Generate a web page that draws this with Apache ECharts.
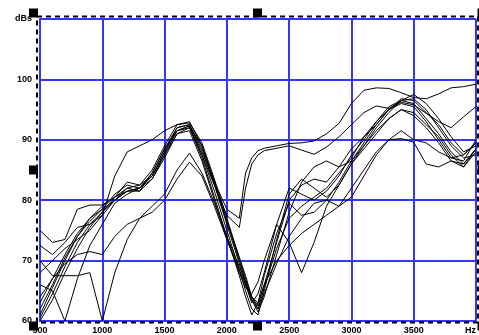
<!DOCTYPE html>
<html>
<head>
<meta charset="utf-8">
<title>dBs / Hz</title>
<script src="https://cdn.jsdelivr.net/npm/echarts/dist/echarts.min.js"></script>
<style>
  html, body { margin: 0; padding: 0; background: #fff; }
  #chart { width: 479px; height: 335px; }
</style>
</head>
<body>
<div id="chart"></div>
<script>
// frequency points (Hz) shared by every curve
const freqs = [500, 600, 700, 800, 900, 1000, 1100, 1200, 1300, 1400, 1500, 1600, 1700, 1800, 1900, 2000, 2100, 2150, 2200, 2250,
  2300, 2400, 2500, 2600, 2700, 2800, 2900, 3000, 3100, 3200, 3300, 3400, 3500, 3600, 3700, 3800, 3900, 4000]

const curve1 = [62, 66, 70.5, 74, 77, 79, 80.5, 81.5, 82, 84.5, 88.5, 92, 92.5, 88, 83, 78.5, 77, 84.5, 87, 88.2,
  88.6, 89, 89.4, 89.5, 89.8, 91, 92.7, 96, 98.2, 98.6, 98.5, 97.8, 97, 96.8, 97.6, 98.6, 98.8, 99.2]
const curve2 = [63, 67, 71, 74.5, 77, 78.5, 80, 81.5, 82, 84, 88, 91.5, 92.3, 87.5, 82.5, 77.5, 75.5, 82, 86, 87.5,
  88.2, 88.6, 89, 88.3, 87.6, 88.8, 90.5, 92.5, 94.5, 95.6, 95.2, 96.2, 95.8, 94.4, 93, 92, 93.8, 95.5]
const curve3 = [61, 65.5, 70, 74, 76.5, 78.5, 81, 82.5, 82, 84, 88, 92, 92.5, 88.5, 82.5, 76, 69.5, 66, 63, 64.5,
  68, 76, 82, 81, 80, 81.5, 84, 87.5, 90, 93, 95.5, 96.5, 96, 93.5, 91, 88, 86, 88.5]
const curve4 = [75, 73, 73.5, 78.5, 79.2, 79.2, 80.5, 82, 82.5, 85, 89, 92.5, 92.8, 89.5, 83.5, 77, 70.5, 67, 64, 62.5,
  66, 73, 80, 82.5, 83.5, 83, 85.5, 88.5, 90.5, 92.5, 95, 96.8, 96.5, 94.5, 92.5, 89.5, 87.5, 89.5]
const curve5 = [68, 70, 72, 73.5, 75, 77.5, 84, 88, 89, 90, 91.5, 92.5, 93, 89, 83, 76.5, 70, 66.5, 63.5, 61.5,
  64, 71, 78, 83, 85.5, 86.5, 85.5, 86.5, 89, 92, 94.5, 96.5, 97.5, 96, 93.5, 90.5, 88, 89]
const curve6 = [72.5, 71, 73, 75.5, 76, 77.5, 80, 81.5, 81.5, 83.5, 87, 91, 92, 87.5, 81.5, 75, 68.5, 65, 62, 61,
  65, 73.5, 81, 83.5, 82, 80.5, 82.5, 86, 89, 91.5, 93.5, 95, 94.5, 92.5, 90.5, 87.5, 85.5, 88]
const curve7 = [60.5, 64.5, 69, 73, 76, 78, 80, 82, 81.5, 84.5, 88.5, 91.5, 92, 87, 80.5, 74, 67.5, 64, 61, 63,
  67.5, 74.5, 79.5, 77.5, 78, 80, 83, 86.5, 89.5, 92.5, 95, 96, 95.5, 93, 90, 87, 86.5, 90]
const curve8 = [66, 65, 60, 67, 72.5, 76, 79.5, 81, 82, 83.5, 87.5, 91, 91.5, 86.5, 80, 73.5, 68, 65.5, 64.5, 66.5,
  70, 76, 73, 68, 73, 79, 82.5, 86, 88.5, 91, 93.5, 95, 94, 92, 89.5, 86.5, 85.5, 88.5]
const curve9 = [70, 67.5, 67.5, 67.5, 68, 60, 68, 73.5, 77, 79, 81, 85, 87.8, 84.5, 79.5, 74, 69, 66.5, 63.5, 62,
  64.5, 69.5, 74, 77, 79.5, 80, 79, 80.5, 84, 87.5, 90, 91.5, 90, 89.5, 88, 87, 87.5, 89.5]
const curve10 = [64, 67, 69.5, 71, 71.5, 71, 74, 76, 77, 78, 80, 83.5, 86.3, 84, 79, 73.5, 68.5, 66, 64, 63,
  66, 70, 72.5, 74.5, 76, 77.5, 79, 82, 85, 88, 90, 90.2, 89.6, 86, 85.5, 86.5, 86, 88.5]
const curve11 = [60, 63.5, 68, 72, 75.5, 78, 80.5, 83, 82.5, 84, 87.5, 91.5, 92.3, 89, 83, 76.5, 70.5, 67.5, 64, 62,
  65.5, 72, 77, 79, 80.5, 82, 84.5, 87, 90.5, 93, 95, 96.5, 96.8, 95, 92, 89, 87, 87.5]

const curves = [curve1, curve2, curve3, curve4, curve5, curve6, curve7, curve8, curve9, curve10, curve11]

// axis ticks
const xTicks = [500, 1000, 1500, 2000, 2500, 3000, 3500, 4000]
const yTicks = [60, 70, 80, 90, 100, 110]
const xUnit = 'Hz'
const yUnit = 'dBs'

const chart = echarts.init(document.getElementById('chart'), null, { renderer: 'canvas' })

const gridBlue = '#3535ff'
const labelFont = {
  color: '#000',
  fontSize: 9,
  fontWeight: 'bold',
  fontFamily: 'Liberation Sans, Arial, sans-serif'
}

// selection handles round the plot (decoration only)
const handle = (cx, cy) => ({
  type: 'rect',
  shape: { x: cx - 4.5, y: cy - 4.5, width: 9, height: 9 },
  style: { fill: '#000' },
  z: 100
})

const option = {
  animation: false,
  backgroundColor: '#fff',
  grid: {
    left: 40,
    top: 19,
    right: 1.5,
    bottom: 13
  },
  xAxis: {
    type: 'value',
    min: xTicks[0],
    max: xTicks[xTicks.length - 1],
    interval: 500,
    axisLine: { show: true, lineStyle: { color: gridBlue, width: 2 } },
    axisTick: { show: false },
    splitLine: { show: true, lineStyle: { color: gridBlue, width: 2 } },
    axisLabel: {
      ...labelFont,
      margin: 5,
      showMinLabel: true,
      showMaxLabel: true,
      alignMaxLabel: 'right',
      formatter: v => (v === xTicks[xTicks.length - 1] ? xUnit : String(v))
    }
  },
  yAxis: {
    type: 'value',
    min: yTicks[0],
    max: yTicks[yTicks.length - 1],
    interval: 10,
    axisLine: { show: true, lineStyle: { color: gridBlue, width: 2 } },
    axisTick: { show: false },
    splitLine: { show: true, lineStyle: { color: gridBlue, width: 2 } },
    axisLabel: {
      ...labelFont,
      margin: 8,
      showMinLabel: true,
      showMaxLabel: true,
      formatter: v => (v === yTicks[yTicks.length - 1] ? yUnit : String(v))
    }
  },
  series: curves.map((c, k) => ({
    name: 'curve' + (k + 1),
    type: 'line',
    showSymbol: false,
    clip: true,
    lineStyle: { color: '#000', width: 1 },
    data: freqs.map((f, i) => [f, c[i]]),
    z: 5
  })),
  graphic: [
    // dashed selection frame
    {
      type: 'rect',
      shape: { x: 37, y: 16.5, width: 441, height: 306 },
      style: { fill: 'none', stroke: '#000', lineWidth: 2, lineDash: [5, 4] },
      z: 90
    },
    handle(33.5, 13),
    handle(257.5, 13),
    handle(482, 13),
    handle(33.5, 170),
    handle(482, 170),
    handle(33.5, 326),
    handle(257.5, 326),
    handle(482, 326)
  ]
}

chart.setOption(option)
</script>
</body>
</html>
